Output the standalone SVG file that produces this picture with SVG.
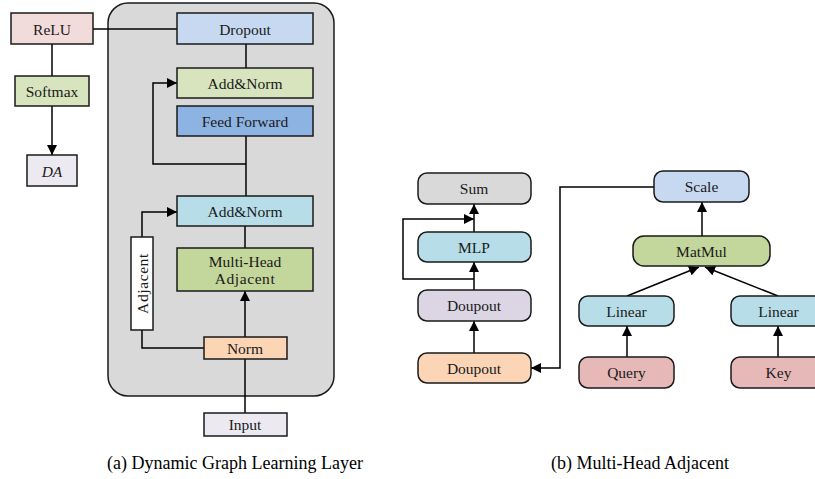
<svg xmlns="http://www.w3.org/2000/svg" width="815" height="479" viewBox="0 0 815 479">
  <defs>
    <marker id="arr" viewBox="0 0 10 10" refX="10" refY="5" markerWidth="10" markerHeight="10" markerUnits="userSpaceOnUse" orient="auto">
      <path d="M0,0 L10,5 L0,10 Z" fill="#000"/>
    </marker>
    <style>
      .box { stroke: #1a1a1a; stroke-width: 1.5; }
      .lbl { font-family: "Liberation Serif", "Times New Roman", serif; font-size: 15.5px; fill: #1a1a1a; text-anchor: middle; dominant-baseline: central; }
      .cap { font-family: "Liberation Serif", "Times New Roman", serif; font-size: 18px; fill: #000; text-anchor: middle; }
      .wire { fill: none; stroke: #000; stroke-width: 1.5; }
    </style>
  </defs>
  <rect width="815" height="479" fill="#fff"/>

  <!-- (a) layer container -->
  <rect x="108" y="3" width="226" height="393" rx="20" fill="#d9d9d9" stroke="#1a1a1a" stroke-width="1.5"/>

  <!-- connectors -->
  <g id="connectors">
    <path class="wire" d="M93,29 H177"/>
    <path class="wire" d="M52,44 V76"/>
    <path class="wire" d="M52,106 V155" marker-end="url(#arr)"/>
    <path class="wire" d="M246,44 V68"/>
    <path class="wire" d="M246,136 V196"/>
    <path class="wire" d="M246,164 H153 V83 H177" marker-end="url(#arr)"/>
    <path class="wire" d="M245,226 V248"/>
    <path class="wire" d="M245,337 V291" marker-end="url(#arr)"/>
    <path class="wire" d="M245,413 V359"/>
    <path class="wire" d="M204,348 H142 V330"/>
    <path class="wire" d="M142,237 V212 H177" marker-end="url(#arr)"/>

    <path class="wire" d="M474,232 V204" marker-end="url(#arr)"/>
    <path class="wire" d="M474,290 V262" marker-end="url(#arr)"/>
    <path class="wire" d="M474,353 V321" marker-end="url(#arr)"/>
    <path class="wire" d="M474,279 H403 V219 H474" marker-end="url(#arr)"/>
    <path class="wire" d="M654,187 H560 V368 H531" marker-end="url(#arr)"/>
    <path class="wire" d="M702,236 V202" marker-end="url(#arr)"/>
    <path class="wire" d="M627,296 L699,267" marker-end="url(#arr)"/>
    <path class="wire" d="M778,296 L705,267" marker-end="url(#arr)"/>
    <path class="wire" d="M627,357 V326" marker-end="url(#arr)"/>
    <path class="wire" d="M778,357 V326" marker-end="url(#arr)"/>
  </g>

  <!-- (a) nodes -->
  <g id="relu"><rect class="box" x="11" y="13" width="82" height="31" fill="#f2dcdb"/><text class="lbl" x="52" y="29">ReLU</text></g>
  <g id="softmax"><rect class="box" x="15" y="76" width="74" height="30" fill="#d7e4bd"/><text class="lbl" x="52" y="91">Softmax</text></g>
  <g id="da"><rect class="box" x="27" y="155" width="50" height="31" fill="#ece9f1"/><text class="lbl" x="52" y="171" font-style="italic">DA</text></g>
  <g id="dropout"><rect class="box" x="177" y="13" width="136" height="31" fill="#c6d9f1"/><text class="lbl" x="245" y="29">Dropout</text></g>
  <g id="addnorm-top"><rect class="box" x="177" y="68" width="136" height="30" fill="#d7e4bd"/><text class="lbl" x="245" y="83">Add&amp;Norm</text></g>
  <g id="feed-forward"><rect class="box" x="177" y="106" width="136" height="30" fill="#8db3e2"/><text class="lbl" x="245" y="121">Feed Forward</text></g>
  <g id="addnorm-low"><rect class="box" x="177" y="196" width="136" height="30" fill="#b7dde8"/><text class="lbl" x="245" y="211">Add&amp;Norm</text></g>
  <g id="multi-head"><rect class="box" x="177" y="248" width="136" height="43" fill="#c3d69b"/><text class="lbl" x="245" y="261">Multi-Head</text><text class="lbl" x="245" y="278" letter-spacing="0.6">Adjacent</text></g>
  <g id="adjacent"><rect class="box" x="131" y="237" width="22" height="93" fill="#fff"/><text class="lbl" transform="translate(142,283.5) rotate(-90)" letter-spacing="0.6">Adjacent</text></g>
  <g id="norm"><rect class="box" x="204" y="337" width="83" height="22" fill="#fcd5b5"/><text class="lbl" x="245" y="348">Norm</text></g>
  <g id="input"><rect class="box" x="204" y="413" width="83" height="23" fill="#ece9f1"/><text class="lbl" x="245" y="424.5">Input</text></g>

  <!-- (b) nodes -->
  <g id="sum"><rect class="box" x="418" y="173" width="113" height="31" rx="9" fill="#d9d9d9"/><text class="lbl" x="474" y="188.5">Sum</text></g>
  <g id="mlp"><rect class="box" x="418" y="232" width="113" height="30" rx="9" fill="#b7dde8"/><text class="lbl" x="474" y="247">MLP</text></g>
  <g id="doupout-1"><rect class="box" x="418" y="290" width="113" height="31" rx="9" fill="#dcd6e4"/><text class="lbl" x="474" y="305.5">Doupout</text></g>
  <g id="doupout-2"><rect class="box" x="418" y="353" width="113" height="30" rx="9" fill="#fbd5b5"/><text class="lbl" x="474" y="368">Doupout</text></g>
  <g id="scale"><rect class="box" x="654" y="171" width="95" height="31" rx="9" fill="#c6d9f1"/><text class="lbl" x="701.5" y="186.5">Scale</text></g>
  <g id="matmul"><rect class="box" x="633" y="236" width="137" height="30" rx="11" fill="#c3d69b"/><text class="lbl" x="701.5" y="251">MatMul</text></g>
  <g id="linear-q"><rect class="box" x="579" y="296" width="95" height="30" rx="9" fill="#b7dde8"/><text class="lbl" x="626.5" y="311">Linear</text></g>
  <g id="linear-k"><rect class="box" x="731" y="296" width="95" height="30" rx="9" fill="#b7dde8"/><text class="lbl" x="778.5" y="311">Linear</text></g>
  <g id="query"><rect class="box" x="579" y="357" width="95" height="31" rx="9" fill="#e6b9b8"/><text class="lbl" x="626.5" y="372.5">Query</text></g>
  <g id="key"><rect class="box" x="731" y="357" width="95" height="31" rx="9" fill="#e6b9b8"/><text class="lbl" x="778.5" y="372.5">Key</text></g>

  <!-- captions -->
  <text class="cap" x="235" y="469">(a) Dynamic Graph Learning Layer</text>
  <text class="cap" x="640" y="469">(b) Multi-Head Adjacent</text>
</svg>
